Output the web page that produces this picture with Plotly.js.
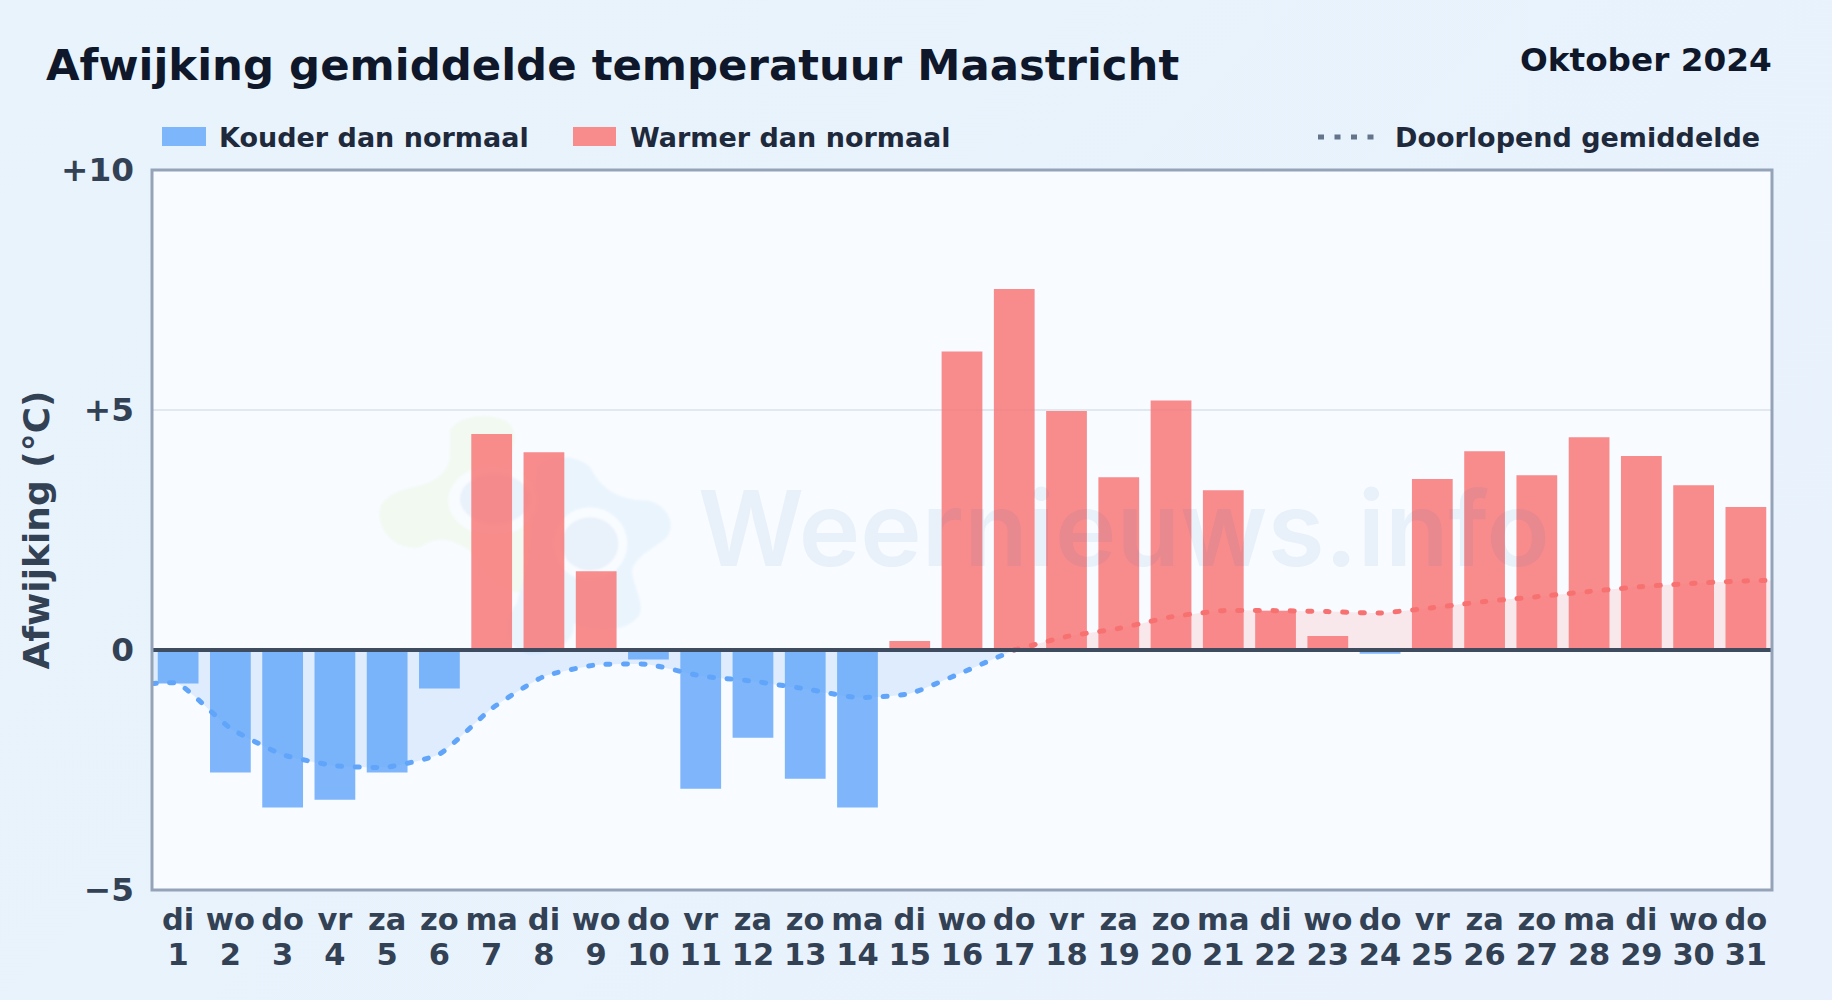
<!DOCTYPE html>
<html><head><meta charset="utf-8">
<script src="https://cdn.plot.ly/plotly-3.0.1.min.js"></script>
<style>
html,body{margin:0;padding:0;width:1832px;height:1000px;overflow:hidden;background:linear-gradient(135deg,#e8f3fc,#e9f2fc);}
#chart{width:1832px;height:1000px;}
.scatterlayer .js-line{stroke-linecap:round;}
</style></head><body><div id="chart"></div>
<script>
const weekdagen=['di','wo','do','vr','za','zo','ma','di','wo','do','vr','za','zo','ma','di','wo','do','vr','za','zo','ma','di','wo','do','vr','za','zo','ma','di','wo','do'];
const dagen=[1,2,3,4,5,6,7,8,9,10,11,12,13,14,15,16,17,18,19,20,21,22,23,24,25,26,27,28,29,30,31];
const afwijking=[-0.70,-2.55,-3.28,-3.12,-2.55,-0.80,4.50,4.12,1.64,-0.20,-2.89,-1.83,-2.68,-3.28,0.19,6.22,7.52,4.98,3.60,5.20,3.33,0.82,0.29,-0.08,3.56,4.14,3.64,4.43,4.04,3.43,2.98];
const gemX_koud=[-0.5,0,1,2,3,4,5,6,7,8,9,10,11,12,13,14,15,16];
const gemY_koud=[-0.70,-0.70,-1.63,-2.18,-2.41,-2.44,-2.17,-1.22,-0.55,-0.31,-0.30,-0.54,-0.65,-0.81,-0.99,-0.91,-0.47,0];
const gemX_warm=[16,17,18,19,20,21,22,23,24,25,26,27,28,29,30,30.5];
const gemY_warm=[0,0.28,0.45,0.69,0.82,0.82,0.80,0.77,0.88,1.01,1.11,1.22,1.32,1.39,1.44,1.45];
const yTicks=[-5,0,5,10];
const yLabels=['−5','0','+5','+10'];
const F='"DejaVu Sans"';
const xIdx=dagen.map((d,i)=>i);
const logo="data:image/svg+xml;utf8,"+encodeURIComponent(`<svg xmlns='http://www.w3.org/2000/svg' viewBox='0 0 960 840'><defs><filter id='b'><feGaussianBlur stdDeviation='3'/></filter></defs><g filter='url(#b)'>
<path fill='#f2f9f1' d='M270,120 C290,75 400,60 450,100 C480,140 450,190 440,240 L520,330 L520,600 C480,620 400,590 380,550 L330,480 C280,450 240,430 180,470 C110,480 60,430 58,370 C60,320 110,300 180,285 C240,270 275,230 270,180 Z'/>
<path fill='#e9f4fd' d='M530,230 C560,190 650,190 690,230 C720,290 770,330 860,330 C920,340 950,400 920,440 C890,470 830,490 815,540 C820,590 850,630 840,670 C810,720 730,730 640,700 C650,760 560,800 500,790 C440,770 420,700 470,640 L510,500 Z'/>
<ellipse cx='400' cy='330' rx='135' ry='105' fill='#f9fcff'/><ellipse cx='690' cy='460' rx='112' ry='110' fill='#f9fcff'/>
<ellipse cx='405' cy='325' rx='105' ry='75' fill='#e9f1fa'/><ellipse cx='690' cy='460' rx='85' ry='80' fill='#e9f1fa'/></g></svg>`);
const SM=0.5;
const data=[
 {type:'scatter',mode:'none',x:gemX_koud,y:gemY_koud,fill:'tozeroy',fillcolor:'rgba(96,165,250,0.17)',line:{shape:'spline',smoothing:SM},hoverinfo:'skip',showlegend:false},
 {type:'scatter',mode:'none',x:gemX_warm,y:gemY_warm,fill:'tozeroy',fillcolor:'rgba(248,113,113,0.14)',line:{shape:'spline',smoothing:SM},hoverinfo:'skip',showlegend:false},
 {type:'bar',name:'Kouder dan normaal',x:xIdx,y:afwijking.map(v=>v<0?v:null),marker:{color:'rgba(96,165,250,0.8)',line:{width:0}},width:0.78,showlegend:false},
 {type:'bar',name:'Warmer dan normaal',x:xIdx,y:afwijking.map(v=>v>=0?v:null),marker:{color:'rgba(248,113,113,0.8)',line:{width:0}},width:0.78,showlegend:false},
 {type:'scatter',mode:'lines',xaxis:'x2',name:'Doorlopend gemiddelde',x:gemX_koud,y:gemY_koud,line:{color:'#60a5fa',width:5,dash:'4px,13.5px',shape:'spline',smoothing:SM},showlegend:false},
 {type:'scatter',mode:'lines',xaxis:'x2',name:'Doorlopend gemiddelde',x:gemX_warm,y:gemY_warm,line:{color:'#f87171',width:5,dash:'4px,13.5px',shape:'spline',smoothing:SM},showlegend:false}
];
const annTxt=(text,x,y,size,color,anchor)=>({text:'<b>'+text+'</b>',xref:'paper',yref:'paper',x:(x-152)/1620,y:(890-y)/721,xanchor:anchor,yanchor:'middle',showarrow:false,font:{family:F,size:size,color:color}});
const layout={
 width:1832,height:1000,autosize:false,
 paper_bgcolor:'rgba(0,0,0,0)',plot_bgcolor:'#f8fbff',
 margin:{l:152,r:60,t:169.5,b:109.5,pad:0},
 barmode:'overlay',
 xaxis:{type:'linear',range:[-0.5,30.5],tickmode:'array',tickvals:xIdx,ticktext:weekdagen,tickangle:0,ticks:'',ticklabelstandoff:8,showgrid:false,zeroline:false,showline:false,tickfont:{family:F,size:30.5,color:'#334155',weight:700}},
 xaxis2:{type:'linear',overlaying:'x',side:'bottom',anchor:'y',range:[-0.5,30.5],tickmode:'array',tickvals:xIdx,ticktext:dagen.map(String),tickangle:0,ticks:'',ticklabelstandoff:43,showgrid:false,zeroline:false,showline:false,tickfont:{family:F,size:30.5,color:'#334155',weight:700}},
 yaxis:{range:[-5,10],tickmode:'array',tickvals:yTicks,ticktext:yLabels,ticks:'',ticklabelstandoff:17,showline:false,zeroline:false,showgrid:true,gridcolor:'#e2e8f0',gridwidth:2,tickfont:{family:F,size:32.7,color:'#334155',weight:700},
  title:{text:'<b>Afwijking (°C)</b>',standoff:0,font:{family:F,size:36,color:'#334155'}}},
 images:[{source:logo,xref:'paper',yref:'paper',x:(360-152)/1620,y:(890-390)/721,sizex:320/1620,sizey:280/721,xanchor:'left',yanchor:'top',sizing:'stretch',layer:'below',opacity:1}],
 shapes:[
  {type:'line',xref:'paper',yref:'y',x0:0,x1:1,y0:0,y1:0,line:{color:'#3f4b5f',width:4},layer:'above'},
  {type:'rect',xref:'paper',yref:'paper',x0:0,x1:1,y0:0,y1:1,line:{color:'#94a3b8',width:3},fillcolor:'rgba(0,0,0,0)',layer:'above'},
  {type:'rect',xref:'paper',yref:'paper',x0:(162-152)/1620,x1:(206-152)/1620,y0:(890-145)/721,y1:(890-126)/721,line:{width:0},fillcolor:'#7eb6fb',layer:'above'},
  {type:'rect',xref:'paper',yref:'paper',x0:(573-152)/1620,x1:(616-152)/1620,y0:(890-145)/721,y1:(890-126)/721,line:{width:0},fillcolor:'#f88c8c',layer:'above'},
  {type:'line',xref:'paper',yref:'paper',x0:(1318-152)/1620,x1:(1375-152)/1620,y0:(890-136)/721,y1:(890-136)/721,line:{color:'#64748b',width:5,dash:'6px,10.5px'},layer:'above'}
 ],
 annotations:[
  annTxt('Afwijking gemiddelde temperatuur Maastricht',44,64,43.4,'#0f172a','left'),
  annTxt('Oktober 2024',1774,58.5,32.7,'#0f172a','right'),
  annTxt('Kouder dan normaal',216.5,136,27,'#1e293b','left'),
  annTxt('Warmer dan normaal',627.5,136,27,'#1e293b','left'),
  annTxt('Doorlopend gemiddelde',1393,136,27,'#1e293b','left'),
  {text:'Weernieuws.info',xref:'paper',yref:'paper',x:(1124-152)/1620,y:(890-527)/721,xanchor:'center',yanchor:'middle',showarrow:false,font:{family:'Inter',size:104,weight:600,color:'rgba(30,100,170,0.07)'}}
 ]
};
Plotly.newPlot('chart',data,layout,{displayModeBar:false,staticPlot:true});
</script></body></html>
